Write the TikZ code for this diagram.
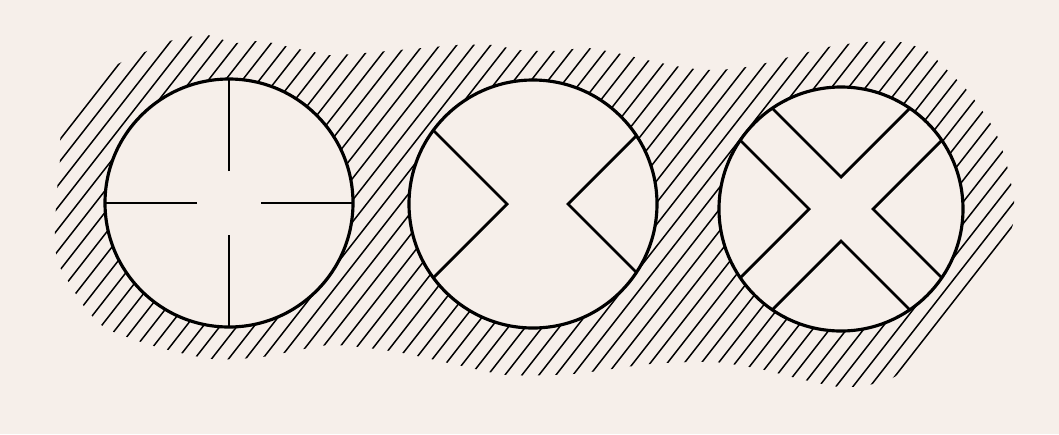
\documentclass[tikz,border=0pt]{standalone}
\usepackage{tikz}
\usetikzlibrary{calc}
\definecolor{paper}{RGB}{246,239,234}
\begin{document}
\begin{tikzpicture}[x=0.02cm,y=-0.02cm,
    ring/.style={draw,line width=1.8pt,fill=paper},
    arm/.style={line width=1.6pt},
    hatch/.style={line width=0.85pt}
  ]
    \fill[paper] (0,0) rectangle (1059,434);
    \coordinate (c1) at (229,203);
    \coordinate (c2) at (533,204);
    \coordinate (c3) at (841,209);

    % hatched ground round the three discs
    \begin{scope}
      \clip plot[smooth cycle,tension=0.4] coordinates {
        (55,225) (57,190) (60,160) (62,131) (90,96) (115,66) (147,51)
        (173,40) (207,35) (233,43) (253,41) (273,43) (293,48) (310,51)
        (327,55) (353,54) (387,51) (423,48) (457,45) (492,45) (520,50)
        (553,51) (587,48) (617,53) (647,60) (687,68) (717,70) (753,66)
        (793,56) (833,46) (867,42) (900,42) (927,51) (945,68) (965,88)
        (979,106) (995,131) (1005,158) (1012,188) (1014,207) (1005,242)
        (908,366) (873,384) (840,387) (800,379) (760,369) (713,362)
        (650,364) (573,374) (507,375) (453,364) (397,352) (330,345)
        (262,357) (212,359) (157,347) (107,329) (86,309) (71,286)
        (58,263) (55,243)};
      \foreach \i in {0,...,62}
        \draw[hatch] (853-17*\i,430) -- ++(-52:600);
    \end{scope}

    % disc with a cross
    \draw[ring] (c1) circle (124);
    \foreach \a in {0,90,180,270}
      \draw[arm] (c1) ++(\a:32) -- ++(\a:92);

    % disc with two wedges
    \draw[ring] (c2) circle (124);
    \begin{scope}[shift={(c2)}]
      \clip (0,0) circle (124);
      \draw[arm] (-136,-110) -- (-26,0) -- (-136,110);
      \draw[arm] (145,-110) -- (35,0) -- (145,110);
    \end{scope}

    % disc with four wedges
    \draw[ring] (c3) circle (122);
    \begin{scope}[shift={(c3)}]
      \clip (0,0) circle (122);
      \foreach \a in {0,90,180,270}
        \draw[arm,rotate=\a] (-110,-142) -- (0,-32) -- (110,-142);
    \end{scope}
\end{tikzpicture}
\end{document}
